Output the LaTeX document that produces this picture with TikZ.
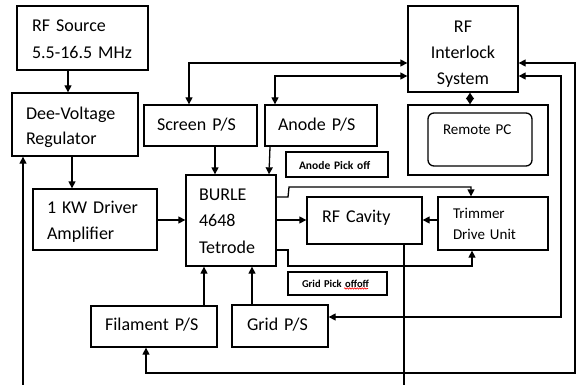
\documentclass[tikz,border=0pt]{standalone}
\usepackage{fontspec}
\setmainfont{Carlito}
\usetikzlibrary{arrows.meta,decorations.pathmorphing}
\begin{document}
\begin{tikzpicture}[x=1pt,y=-1pt,line width=1.3pt,
  >={Triangle[length=7pt,width=7pt]},
  box/.style={draw,line width=1.3pt,inner ysep=0pt,align=left},
  big/.style={font=\fontsize{18}{26.5}\selectfont},
  mid/.style={font=\fontsize{15}{21}\selectfont},
  tag/.style={font=\bfseries\fontsize{#1}{#1}\selectfont},
  hd/.style 2 args={text height=#1pt,text depth=#2pt},
  dia/.style={{Triangle[length=6.5pt,width=8pt]}-{Triangle[length=6.5pt,width=8pt]}}]
\useasboundingbox (0,0) rectangle (578,385);
% boxes
\node[box,big,hd={0}{12.4},minimum width=131pt,minimum height=64pt,inner xsep=15pt,text width=101pt] (src) at (82.5,38) {RF Source\\5.5-16.5 MHz};
\node[box,big,hd={0}{10},font=\fontsize{18}{25}\selectfont,minimum width=126pt,minimum height=63pt,inner xsep=14pt,text width=98pt] (dee) at (75,124.5) {Dee-Voltage\\Regulator};
\node[box,big,hd={0}{12},font=\fontsize{18}{26}\selectfont,minimum width=124pt,minimum height=61pt,inner xsep=14pt,text width=96pt] (drv) at (95,219.5) {1 KW Driver\\Amplifier};
\node[box,big,hd={9.6}{0},minimum width=113pt,minimum height=41pt,inner xsep=13pt,text width=87pt] (scr) at (200.5,125.5) {Screen P/S};
\node[box,big,hd={9.6}{0},minimum width=112pt,minimum height=41pt,inner xsep=13pt,text width=86pt] (ano) at (321,125.5) {Anode P/S};
\node[box,big,hd={0}{41},minimum width=90pt,minimum height=91pt,inner xsep=13pt,text width=64pt] (tet) at (231,220.5) {BURLE\\4648\\Tetrode};
\node[box,big,hd={4}{0},minimum width=115pt,minimum height=47pt,inner xsep=15pt,text width=85pt] (cav) at (364.5,220.5) {RF Cavity};
\node[box,mid,hd={0}{9.6},minimum width=110pt,minimum height=53pt,inner xsep=15pt,text width=80pt] (trm) at (493,223.5) {Trimmer\\Drive Unit};
\node[box,big,hd={8.6}{0},minimum width=126pt,minimum height=41pt,inner xsep=14pt,text width=98pt] (fil) at (154,326.5) {Filament P/S};
\node[box,big,hd={9.6}{0},minimum width=96pt,minimum height=42pt,inner xsep=15pt,text width=66pt] (grd) at (280,326) {Grid P/S};
\node[box,big,hd={0}{33.4},font=\fontsize{18}{26}\selectfont,align=center,minimum width=110pt,minimum height=86pt,inner xsep=5pt,text width=100pt] (ilk) at (463,49) {RF\\Interlock\\System};
\node[box,minimum width=140pt,minimum height=70pt] (pcbox) at (478,140) {};
\node[box,mid,hd={0}{9.5},rounded corners=6pt,minimum width=104pt,minimum height=53pt,inner xsep=15pt,text width=74pt] (pc) at (480,139.5) {Remote PC};
\node[box,tag=11.5,hd={10.2}{0},minimum width=102pt,minimum height=25pt,inner xsep=13pt,text width=76pt] (apo) at (337,164.5) {Anode Pick off};
\node[box,tag=10.5,hd={7.6}{0},minimum width=99pt,minimum height=23pt,inner xsep=14pt,text width=71pt] (gpo) at (337.5,283.5) {Grid Pick offoff};
\draw[red,line width=0.6pt,decorate,decoration={snake,amplitude=0.7pt,segment length=2.5pt}] (344,288.5) -- (368,288.5);
% free ends
\coordinate (deein) at (23,385);
\coordinate (cavout) at (404,385);
% connectors
\draw[->] (src.south -| 68,0) -- (dee.north -| 68,0);
\draw[->] (dee.south -| 72,0) -- (drv.north -| 72,0);
\draw[->] (deein) -- (dee.south -| deein);
\draw[->] (drv.east |- 0,220) -- (tet.west |- 0,220);
\draw[->] (scr.south -| 215,0) -- (tet.north -| 215,0);
\draw[->] (ano.south -| 270,0) -- (tet.north -| 269,0);
\draw[<->] (ilk.west |- 0,63) -- (189,63) -- (scr.north -| 189,0);
\draw[<->] (ilk.west |- 0,76) -- (275,76) -- (ano.north -| 275,0);
\draw[dia] (ilk.south -| 470,0) -- (pcbox.north -| 470,0);
\draw[<->] (fil.south -| 146,0) -- (146,373) -- (575,373) -- (575,63) -- (ilk.east |- 0,63);
\draw[<->] (grd.east |- 0,317) -- (561,317) -- (561,76) -- (ilk.east |- 0,76);
\draw[->] (tet.east |- 0,220) -- (cav.west |- 0,220);
\draw[->] (trm.west |- 0,220) -- (cav.east |- 0,220);
\draw[->] (tet.east |- 0,197) -- (288,197) -- (289,187) -- (471,187) -- (trm.north -| 471,0);
\draw[->] (tet.east |- 0,250) -- (288,250) -- (288,266) -- (472,266) -- (trm.south -| 472,0);
\draw (cav.south -| cavout) -- (cavout);
\draw[->] (fil.north -| 204,0) -- (tet.south -| 204,0);
\draw[->] (grd.north -| 252,0) -- (tet.south -| 252,0);
\end{tikzpicture}
\end{document}
